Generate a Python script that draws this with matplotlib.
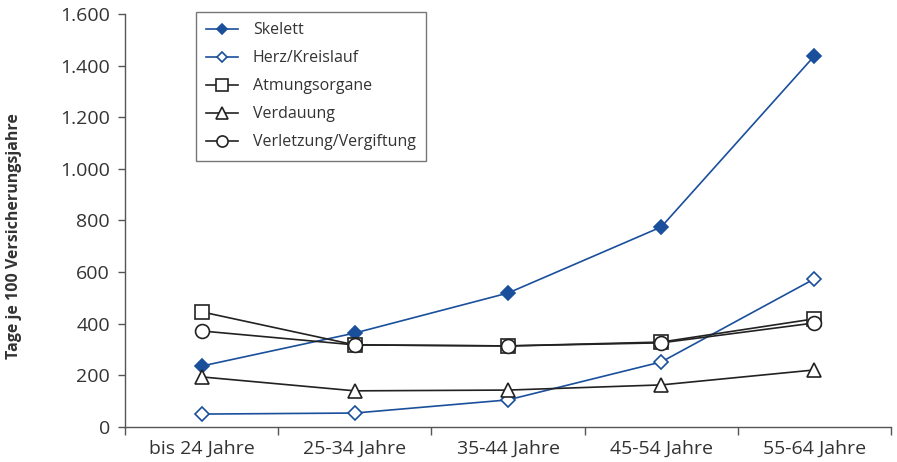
import matplotlib

matplotlib.use("Agg")
import matplotlib.pyplot as plt
from matplotlib.ticker import FuncFormatter, FixedLocator
import numpy as np

plt.rcParams["font.family"] = ["Open Sans", "DejaVu Sans"]

# Arbeitsunfähigkeitstage je 100 Versicherungsjahre nach Altersgruppe
age_groups = ["bis 24 Jahre", "25-34 Jahre", "35-44 Jahre", "45-54 Jahre", "55-64 Jahre"]
skelett = [236, 364, 519, 775, 1438]
herz_kreislauf = [50, 54, 105, 252, 574]
atmungsorgane = [446, 318, 314, 329, 419]
verdauung = [194, 140, 143, 163, 221]
verletzung = [372, 318, 314, 326, 403]

BLUE = "#1a4f9c"
DARK = "#222222"
TEXT = "#333333"

fig = plt.figure(figsize=(8.97, 4.62), dpi=100)
ax = fig.add_axes([0.1394, 0.0758, 0.8540, 0.8939])

x = np.arange(len(age_groups))
series = [
    ("Skelett", skelett, BLUE, "D", BLUE, 7),
    ("Herz/Kreislauf", herz_kreislauf, BLUE, "D", "white", 7),
    ("Atmungsorgane", atmungsorgane, DARK, "s", "white", 10),
    ("Verdauung", verdauung, DARK, "^", "white", 10),
    ("Verletzung/Vergiftung", verletzung, DARK, "o", "white", 10),
]
for label, vals, col, mk, fc, size in series:
    ax.plot(x, vals, color=col, lw=1.2, marker=mk, markersize=size,
            markerfacecolor=fc, markeredgecolor=col, markeredgewidth=1.2, label=label)

ax.set_xlim(-0.5, len(age_groups) - 0.5)
ax.set_ylim(0, 1600)
ax.set_xticks(x)
ax.set_xticklabels(age_groups)
ax.xaxis.set_minor_locator(FixedLocator(np.arange(-0.5, len(age_groups), 1.0)))
ax.tick_params(axis="x", which="major", length=0, labelsize=14, labelcolor=TEXT, pad=9)
ax.tick_params(axis="x", which="minor", length=6, width=1, color="#555555", direction="out")
ax.set_yticks(np.arange(0, 1601, 200))
ax.yaxis.set_major_formatter(FuncFormatter(lambda v, _: f"{int(v):,}".replace(",", ".")))
ax.tick_params(axis="y", length=5, width=1, color="#555555", labelsize=14, labelcolor=TEXT, pad=6)

for side in ("top", "right"):
    ax.spines[side].set_visible(False)
for side in ("left", "bottom"):
    ax.spines[side].set_color("#555555")
    ax.spines[side].set_linewidth(1.0)

fig.text(0.016, 0.49, "Tage je 100 Versicherungsjahre", rotation=90, ha="center", va="center",
         fontsize=11.5, fontweight="bold", color=TEXT)

leg = ax.legend(loc="upper left", bbox_to_anchor=(196 / 897, 1 - 12 / 462),
                bbox_transform=fig.transFigure, frameon=True, fancybox=False,
                fontsize=11.5, handlelength=2.0, handletextpad=0.9, labelspacing=0.75,
                borderpad=0.65, borderaxespad=0, markerscale=0.8)
leg.get_frame().set_edgecolor("#555555")
leg.get_frame().set_linewidth(1.0)
for t in leg.get_texts():
    t.set_color(TEXT)

fig.savefig("out.png", dpi=100)
